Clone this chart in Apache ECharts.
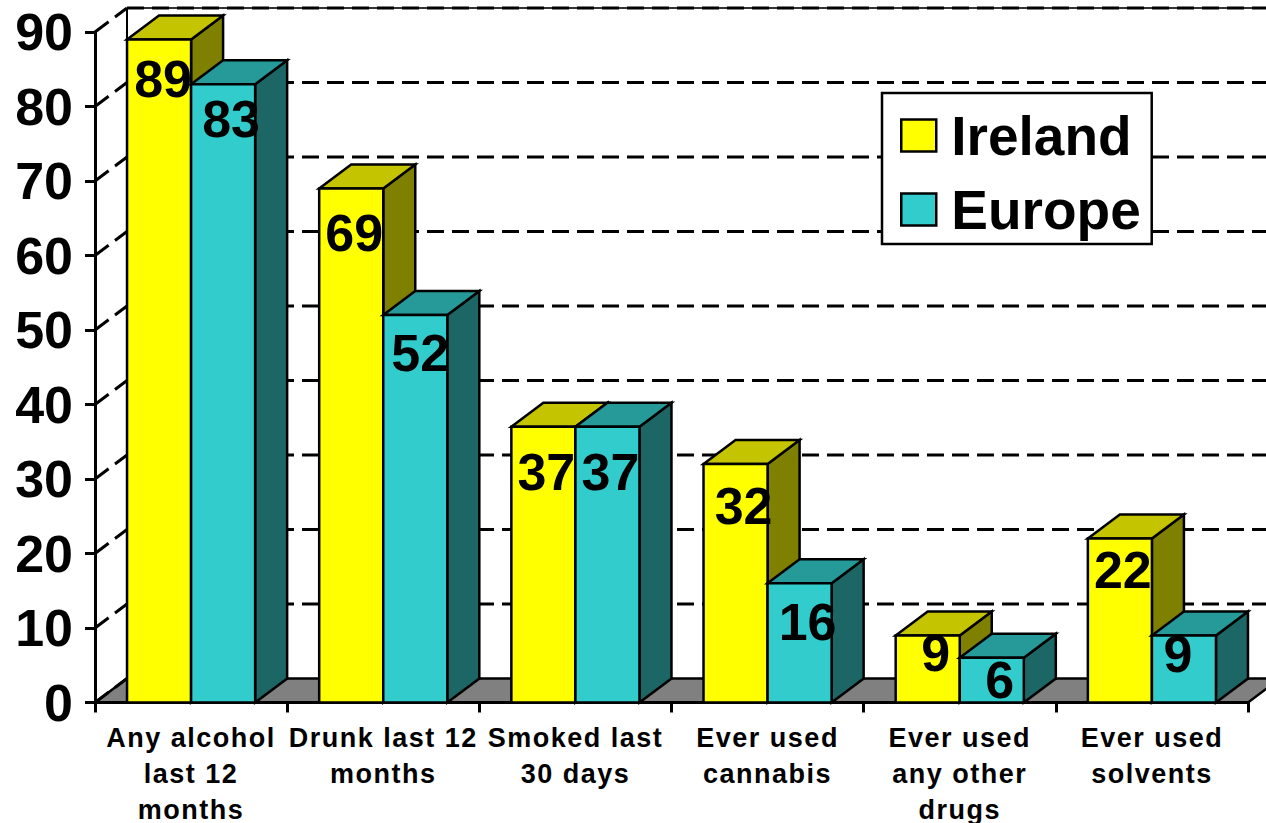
<!DOCTYPE html>
<html><head><meta charset="utf-8">
<style>
html,body{margin:0;padding:0;background:#fff}
#c{width:1266px;height:823px}
text[style*="27px"]{letter-spacing:1.5px}
</style>
<script src="https://cdn.jsdelivr.net/npm/echarts@6/dist/echarts.min.js"></script>
</head><body><div id="c"></div>
<script>
const categories = ['Any alcohol\nlast 12\nmonths','Drunk last 12\nmonths','Smoked last\n30 days','Ever used\ncannabis','Ever used\nany other\ndrugs','Ever used\nsolvents'];
const ireland = [89,69,37,32,9,22];
const europe = [83,52,37,16,6,9];
const yTicks = [0,10,20,30,40,50,60,70,80,90];
// label offsets (px) from bar centre / bar top
const irelandNudge = [[4,40],[3,45],[3,45],[8,42],[8,18],[3,31]];
const europeNudge = [[8,35],[5,38],[3,45],[8,39],[8,22],[-6,19]];
const DX = 32, DY = -24;
const FONT = '"Liberation Sans", Arial, sans-serif';

function barRenderer(side, colors, nudge){
  return function(params, api){
    const c = api.coord([api.value(0), api.value(1)]);
    const base = api.coord([api.value(0), 0]);
    const w = api.size([1,0])[0] / 3;
    const x0 = side < 0 ? c[0]-w : c[0];
    const x1 = x0 + w;
    const yT = c[1], yB = base[1];
    const st = f => ({fill:f, stroke:'#000', lineWidth:2.5, lineJoin:'miter'});
    const n = nudge[params.dataIndex];
    return {type:'group', children:[
      {type:'polygon', shape:{points:[[x1,yT],[x1+DX,yT+DY],[x1+DX,yB+DY],[x1,yB]]}, style:st(colors[2])},
      {type:'polygon', shape:{points:[[x0,yT],[x0+DX,yT+DY],[x1+DX,yT+DY],[x1,yT]]}, style:st(colors[1])},
      {type:'rect', shape:{x:x0,y:yT,width:x1-x0,height:yB-yT}, style:st(colors[0])},
      {type:'text', z2:50, style:{x:(x0+x1)/2+n[0], y:yT+n[1], text:String(api.value(1)), align:'center', verticalAlign:'middle', fill:'#000', font:'bold 52px '+FONT}}
    ]};
  };
}
function wallRenderer(params, api){
  const v = api.value(0);
  const p = api.coord([0, v]);
  const size = api.size([1,0])[0];
  const xL = p[0]-size/2, xR = api.coord([categories.length-1, v])[0]+size/2;
  const y = p[1];
  const children = [];
  if (v === 0) {
    children.push({type:'polygon', shape:{points:[[xL,y],[xL+DX,y+DY],[xR+DX,y+DY],[xR,y]]}, style:{fill:'#808080', stroke:'#000', lineWidth:2.5}});
    const top = api.coord([0, yTicks[yTicks.length-1]])[1];
    children.push({type:'line', shape:{x1:xL+DX,y1:y+DY,x2:xL+DX,y2:top+DY}, style:{stroke:'#000', lineWidth:2}});
  } else {
    if (v === yTicks[yTicks.length-1]) {
      children.push({type:'line', shape:{x1:xL+DX,y1:y+DY,x2:xR+DX,y2:y+DY}, style:{stroke:'#333', lineWidth:2}});
    }
    children.push({type:'line', shape:{x1:xL+DX,y1:y+DY,x2:xR+DX,y2:y+DY}, style:{stroke:'#000', lineWidth:3, lineDash:[17,8]}});
  }
  children.push({type:'line', shape:{x1:xL,y1:y,x2:xL+DX,y2:y+DY}, style:{stroke:'#000', lineWidth:3, lineDash:[17,8]}});
  return {type:'group', children};
}
const chart = echarts.init(document.getElementById('c'), null, {renderer:'svg'});
chart.setOption({
  animation:false,
  backgroundColor:'#fff',
  grid:{left:95, right:18, top:32, bottom:120.5, outerBoundsMode:'none'},
  legend:{
    left:882, top:93, orient:'vertical', selectedMode:false, icon:'rect',
    data:['Ireland','Europe'],
    itemWidth:35, itemHeight:32, itemGap:19,
    padding:[15,11,7,18], backgroundColor:'#fff', borderColor:'#000', borderWidth:2.5,
    itemStyle:{borderColor:'#000', borderWidth:2.5},
    textStyle:{fontFamily:FONT, fontWeight:'bold', fontSize:55, color:'#000', padding:[0,0,0,10]}
  },
  xAxis:{type:'category', data:categories,
    axisLine:{lineStyle:{color:'#000', width:3}},
    axisTick:{show:true, length:10, lineStyle:{color:'#000', width:3}},
    axisLabel:{interval:0, color:'#000', fontFamily:FONT, fontWeight:'bold', fontSize:27, lineHeight:36, margin:17}
  },
  yAxis:{type:'value', min:0, max:90, interval:10,
    splitLine:{show:false},
    axisLine:{show:true, lineStyle:{color:'#000', width:3}},
    axisTick:{show:true, length:10, lineStyle:{color:'#000', width:3}},
    axisLabel:{color:'#000', fontFamily:FONT, fontWeight:'bold', fontSize:52, margin:22}
  },
  series:[
    {type:'custom', name:'wall', z:-1, silent:true, coordinateSystem:'cartesian2d', data:yTicks.map(v=>[v]), encode:{y:0}, renderItem:wallRenderer},
    {type:'custom', name:'Ireland', itemStyle:{color:'#ffff00'}, data:ireland.map((v,i)=>[i,v]), encode:{x:0,y:1},
      renderItem:barRenderer(-1,['#ffff00','#c4c400','#808000'],irelandNudge)},
    {type:'custom', name:'Europe', itemStyle:{color:'#33cccc'}, data:europe.map((v,i)=>[i,v]), encode:{x:0,y:1},
      renderItem:barRenderer(1,['#33cccc','#269999','#1c6666'],europeNudge)}
  ]
});
</script></body></html>
